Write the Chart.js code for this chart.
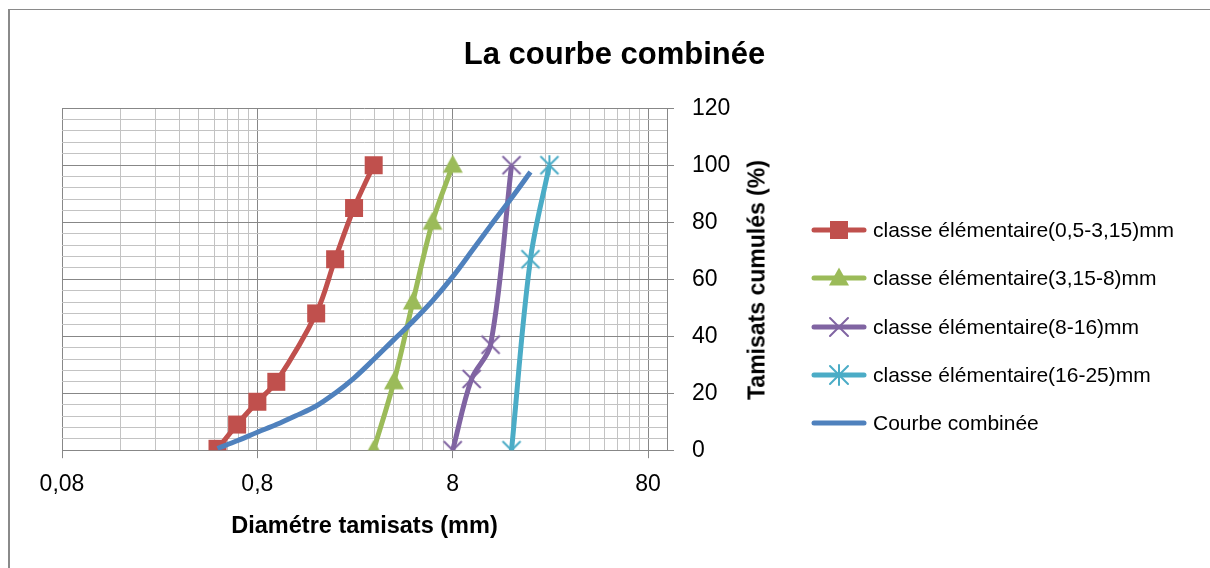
<!DOCTYPE html>
<html>
<head>
    <meta charset="utf-8">
    <title>La courbe combinée</title>
    <script src="https://cdn.jsdelivr.net/npm/chart.js"></script>
    <style>
        html, body { margin: 0; padding: 0; background: #fff; overflow: hidden; }
        body { width: 1210px; height: 568px; position: relative; font-family: 'Liberation Sans', Arial, sans-serif; color: #000; }
        #cadre { position: absolute; left: 8px; top: 9px; width: 1400px; height: 800px; border-left: 2px solid #8a8a8a; border-top: 1px solid #8a8a8a; }
        #zone { position: absolute; left: 0; top: 0; width: 1210px; height: 568px; }
        #titreY { position: absolute; left: 757px; top: 280px; transform: translate(-50%, -50%) rotate(-90deg); white-space: nowrap; font-weight: bold; font-size: 23px; }
        .ligne-legende { position: absolute; left: 811px; height: 26px; display: flex; align-items: center; font-size: 21px; white-space: nowrap; }
        .ligne-legende canvas { margin-right: 6px; }
    </style>
</head>
<body>
    <div id="cadre"></div>
    <div id="zone"><canvas id="courbe"></canvas></div>
    <div id="titreY">Tamisats cumulés (%)</div>
    <div id="legende"></div>

    <script>
        // classe élémentaire (0,5-3,15) mm
        var diamRouge = [0.5, 0.63, 0.8, 1, 1.6, 2, 2.5, 3.15];
        var tamRouge = [0.5, 9, 17, 24, 48, 67, 85, 100];
        // classe élémentaire (3,15-8) mm
        var diamVert = [3.15, 4, 5, 6.3, 8];
        var tamVert = [0, 24, 52, 80, 100];
        // classe élémentaire (8-16) mm
        var diamViolet = [8, 10, 12.5, 16];
        var tamViolet = [0, 25, 37, 100];
        // classe élémentaire (16-25) mm
        var diamCyan = [16, 20, 25];
        var tamCyan = [0, 67, 100];
        // courbe combinée
        var diamComb = [0.5, 0.63, 0.8, 1, 1.25, 1.6, 2, 2.5, 3.15, 4, 5, 6.3, 8, 10, 12.5, 16, 20];
        var tamComb = [0.6, 3.3, 6.3, 9, 12, 15.5, 20, 25.3, 31.8, 38.8, 45.2, 52.4, 60.9, 69.8, 78.8, 88.5, 97.6];

        var nomsSeries = [
            'classe élémentaire(0,5-3,15)mm',
            'classe élémentaire(3,15-8)mm',
            'classe élémentaire(8-16)mm',
            'classe élémentaire(16-25)mm',
            'Courbe combinée'
        ];

        // axes
        var xMajeurs = [0.08, 0.8, 8, 80];
        var xEtiquettes = ['0,08', '0,8', '8', '80'];
        var xMin = 0.08, xMax = 100;
        var yMajeurs = [0, 20, 40, 60, 80, 100, 120];
        var yPasMineur = 4;

        var GRIS_FORT = '#878787';
        var GRIS_CLAIR = '#c3c3c3';

        function points(xs, ys) {
            return xs.map(function(x, i) { return { x: x, y: ys[i] }; });
        }

        function dessinerMarqueur(ctx, type, cx, cy, couleur) {
            ctx.fillStyle = couleur;
            ctx.strokeStyle = couleur;
            ctx.lineWidth = 2;
            if (type === 'carre') {
                ctx.fillRect(cx - 9, cy - 9, 18, 18);
            } else if (type === 'triangle') {
                ctx.beginPath();
                ctx.moveTo(cx, cy - 10.5);
                ctx.lineTo(cx + 10, cy + 7.5);
                ctx.lineTo(cx - 10, cy + 7.5);
                ctx.closePath();
                ctx.fill();
            } else if (type === 'croix' || type === 'etoile') {
                ctx.beginPath();
                ctx.moveTo(cx - 9, cy - 9); ctx.lineTo(cx + 9, cy + 9);
                ctx.moveTo(cx + 9, cy - 9); ctx.lineTo(cx - 9, cy + 9);
                if (type === 'etoile') {
                    ctx.moveTo(cx, cy - 10); ctx.lineTo(cx, cy + 10);
                }
                ctx.stroke();
            }
        }

        function marqueur(type, couleur) {
            var c = document.createElement('canvas');
            c.width = 26; c.height = 26;
            dessinerMarqueur(c.getContext('2d'), type, 13, 13, couleur);
            return c;
        }

        var series = [
            { nom: nomsSeries[0], xs: diamRouge, ys: tamRouge, couleur: '#C0504D', type: 'carre' },
            { nom: nomsSeries[1], xs: diamVert, ys: tamVert, couleur: '#9BBB59', type: 'triangle' },
            { nom: nomsSeries[2], xs: diamViolet, ys: tamViolet, couleur: '#8064A2', type: 'croix' },
            { nom: nomsSeries[3], xs: diamCyan, ys: tamCyan, couleur: '#4BACC6', type: 'etoile' },
            { nom: nomsSeries[4], xs: diamComb, ys: tamComb, couleur: '#4F81BD', type: null }
        ];

        // grille : 1..9 fois chaque majeur, puis la borne max
        var grilleX = [];
        xMajeurs.forEach(function(m) {
            for (var k = 1; k <= 9; k++) {
                if (m * k <= xMax) grilleX.push(m * k);
            }
        });
        grilleX.push(xMax);
        var grilleY = [];
        for (var v = 0; v <= 120; v += yPasMineur) grilleY.push(v);

        function estMajeurX(val) { return xMajeurs.indexOf(val) >= 0 || val === xMax; }
        function estMajeurY(val) { return yMajeurs.indexOf(val) >= 0; }

        Chart.defaults.font.family = "'Liberation Sans', Arial, sans-serif";
        Chart.defaults.color = '#000';

        var datasets = series.map(function(s) {
            return {
                label: s.nom,
                data: points(s.xs, s.ys),
                showLine: true,
                borderColor: s.couleur,
                backgroundColor: s.couleur,
                borderWidth: 5,
                tension: 0.35,
                pointStyle: s.type ? marqueur(s.type, s.couleur) : false,
                pointRadius: s.type ? 9 : 0,
                order: s.type ? 1 : 0
            };
        });

        new Chart(document.getElementById('courbe'), {
            type: 'scatter',
            data: { datasets: datasets },
            options: {
                responsive: true,
                maintainAspectRatio: false,
                animation: false,
                layout: { padding: { left: 62, right: 43, top: 10, bottom: 27 } },
                plugins: {
                    legend: { display: false },
                    tooltip: { enabled: false },
                    title: {
                        display: true,
                        text: 'La courbe combinée',
                        font: { size: 31, weight: 'bold' },
                        color: '#000',
                        padding: { top: 27, bottom: 34 }
                    }
                },
                scales: {
                    x: {
                        type: 'logarithmic',
                        min: xMin,
                        max: xMax,
                        afterBuildTicks: function(scale) {
                            scale.ticks = grilleX.map(function(v) { return { value: v }; });
                        },
                        ticks: {
                            autoSkip: false,
                            maxRotation: 0,
                            padding: 13,
                            font: { size: 23 },
                            callback: function(value) {
                                var i = xMajeurs.indexOf(value);
                                return i >= 0 ? xEtiquettes[i] : '';
                            }
                        },
                        grid: {
                            color: function(c) { return c.tick && estMajeurX(c.tick.value) ? GRIS_FORT : GRIS_CLAIR; },
                            tickLength: 8,
                            tickColor: function(c) { return c.tick && xMajeurs.indexOf(c.tick.value) >= 0 ? GRIS_FORT : 'rgba(0,0,0,0)'; }
                        },
                        border: { color: GRIS_FORT },
                        title: {
                            display: true,
                            text: 'Diamétre tamisats (mm)',
                            font: { size: 23.5, weight: 'bold' },
                            padding: { top: 1, bottom: 0 }
                        }
                    },
                    y: {
                        position: 'right',
                        min: 0,
                        max: 120,
                        afterBuildTicks: function(scale) {
                            scale.ticks = grilleY.map(function(v) { return { value: v }; });
                        },
                        afterFit: function(scale) { scale.width = 500; },
                        ticks: {
                            autoSkip: false,
                            padding: 18,
                            font: { size: 23 },
                            callback: function(value) { return estMajeurY(value) ? String(value) : ''; }
                        },
                        grid: {
                            color: function(c) { return c.tick && estMajeurY(c.tick.value) ? GRIS_FORT : GRIS_CLAIR; },
                            tickLength: 7,
                            tickColor: function(c) { return c.tick && estMajeurY(c.tick.value) ? GRIS_FORT : 'rgba(0,0,0,0)'; }
                        },
                        border: { color: GRIS_FORT }
                    }
                }
            }
        });

        // légende à droite, symbole trait + marqueur comme dans Excel
        var legende = document.getElementById('legende');
        series.forEach(function(s, i) {
            var ligne = document.createElement('div');
            ligne.className = 'ligne-legende';
            ligne.style.top = (217 + i * 48.25) + 'px';
            var c = document.createElement('canvas');
            c.width = 56; c.height = 26;
            var ctx = c.getContext('2d');
            ctx.strokeStyle = s.couleur;
            ctx.lineWidth = 5;
            ctx.lineCap = 'round';
            ctx.beginPath();
            ctx.moveTo(3, 13); ctx.lineTo(53, 13);
            ctx.stroke();
            if (s.type) dessinerMarqueur(ctx, s.type, 28, 13, s.couleur);
            var txt = document.createElement('span');
            txt.textContent = s.nom;
            ligne.appendChild(c);
            ligne.appendChild(txt);
            legende.appendChild(ligne);
        });
    </script>
</body>
</html>
